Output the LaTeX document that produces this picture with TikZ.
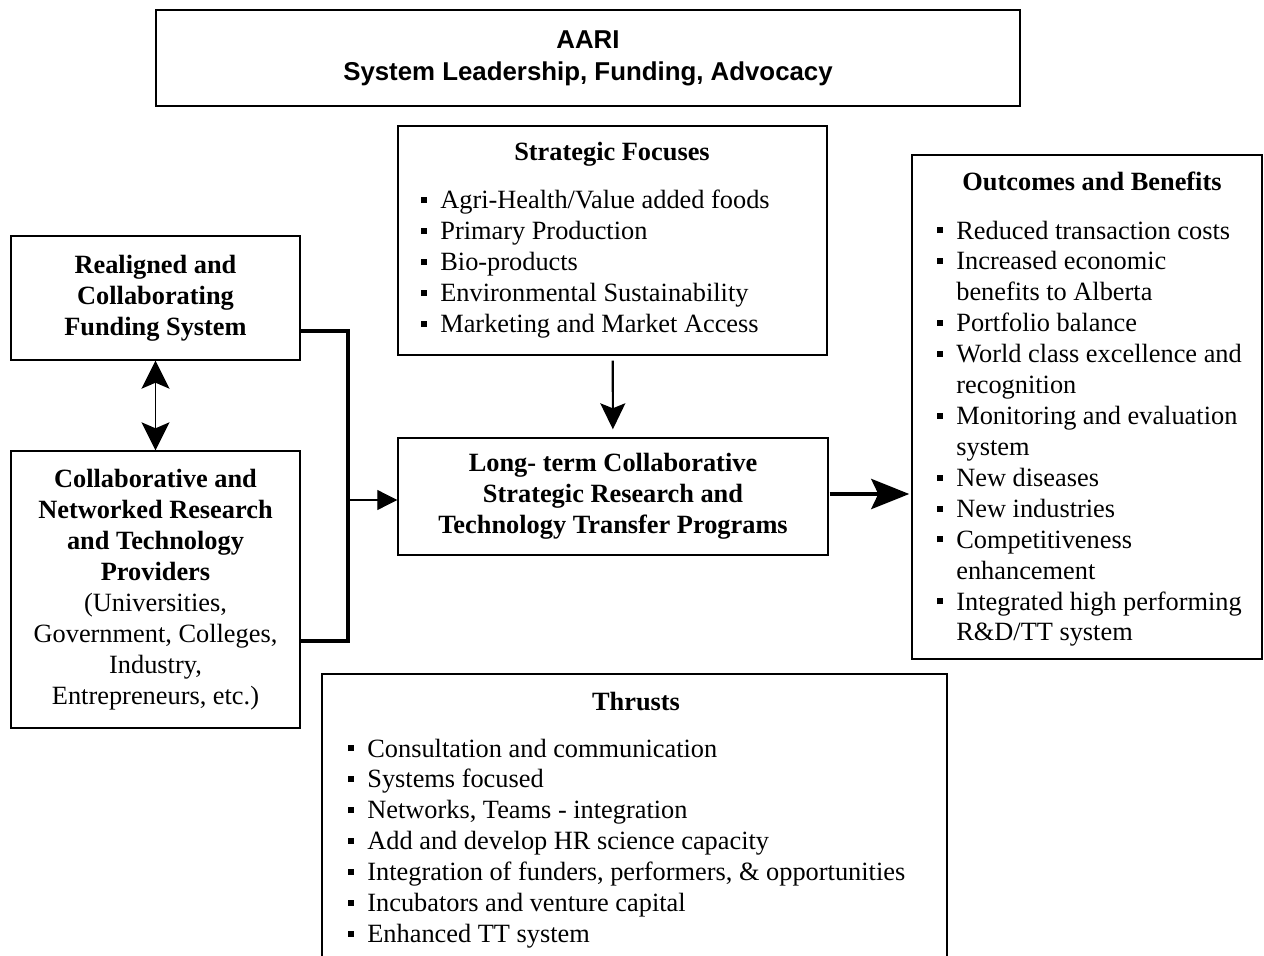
\documentclass[tikz,border=0pt]{standalone}
\usepackage{fontspec}
\setmainfont{Liberation Serif}
\newfontfamily\headfont{Liberation Sans}
\usetikzlibrary{arrows.meta,positioning}

\newlength\pxl
\setlength\pxl{0.02cm}
\newcommand\sq{\rule[0.22em]{6\pxl}{6\pxl}}
\newcommand\bodysize{\fontsize{15}{17.6}\selectfont}

\tikzset{
  box/.style={draw, line width=0.8pt, inner sep=0pt, align=center},
  boxtext/.style={font=\bodysize\bfseries, align=center},
  listtext/.style={font=\bodysize, inner sep=0pt, anchor=base west},
  headtext/.style={font=\bodysize\bfseries, inner sep=0pt, anchor=base},
  link/.style={-{Triangle[length=0.4cm,width=0.4cm]}, line width=0.6pt},
  bothway/.style={{Stealth[length=0.56cm,width=0.56cm,inset=0.12cm]}-{Stealth[length=0.56cm,width=0.56cm,inset=0.12cm]}, line width=0.8pt},
  feed/.style={-{Stealth[length=0.52cm,width=0.5cm,inset=0.1cm]}, line width=1.2pt},
  bigarrow/.style={-{Stealth[length=0.76cm,width=0.6cm,inset=0.14cm]}, line width=2.6pt},
  bracket/.style={line width=2.5pt}
}

\begin{document}
\begin{tikzpicture}[x=0.02cm, y=-0.02cm]
  \clip (0,0) rectangle (1264,956);

  % top box
  \node[box, minimum width=864\pxl, minimum height=96\pxl,
        font=\headfont\bfseries\fontsize{14.7}{18.1}\selectfont] (aari) at (588,58)
        {AARI\\System Leadership, Funding, Advocacy};

  % left column
  \node[box, minimum width=289\pxl, minimum height=124\pxl, boxtext] (realign) at (155.5,298)
        {Realigned and\\Collaborating\\Funding System};
  \node[box, minimum width=289\pxl, minimum height=277\pxl, font=\bodysize] (collab) at (155.5,589.5)
        {\textbf{Collaborative and}\\\textbf{Networked Research}\\\textbf{and Technology}\\\textbf{Providers}\\
         (Universities,\\Government, Colleges,\\Industry,\\Entrepreneurs, etc.)};

  % middle column
  \node[box, minimum width=429\pxl, minimum height=229\pxl] (focus) at (612.5,240.5) {};
  \node[headtext] (focus-head) at (612,161) {Strategic Focuses};
  \node[listtext] (focus-list) at (421,209) {\begin{tabular}[t]{@{}l@{\hspace{13\pxl}}l@{}}
      \sq & Agri-Health/Value added foods\\
      \sq & Primary Production\\
      \sq & Bio-products\\
      \sq & Environmental Sustainability\\
      \sq & Marketing and Market Access
    \end{tabular}};

  \node[box, minimum width=430\pxl, minimum height=117\pxl, boxtext] (longterm) at (613,496.5)
        {Long- term Collaborative\\Strategic Research and\\Technology Transfer Programs};

  \node[box, minimum width=625\pxl, minimum height=300\pxl] (thrust) at (634.5,824) {};
  \node[headtext] (thrust-head) at (636,710) {Thrusts};
  \node[listtext] (thrust-list) at (348,757) {\begin{tabular}[t]{@{}l@{\hspace{13\pxl}}l@{}}
      \sq & Consultation and communication\\
      \sq & Systems focused\\
      \sq & Networks, Teams - integration\\
      \sq & Add and develop HR science capacity\\
      \sq & Integration of funders, performers, \& opportunities\\
      \sq & Incubators and venture capital\\
      \sq & Enhanced TT system
    \end{tabular}};

  % right column
  \node[box, minimum width=350\pxl, minimum height=504\pxl] (outcome) at (1087,407) {};
  \node[headtext] (outcome-head) at (1092,191) {Outcomes and Benefits};
  \node[listtext] (outcome-list) at (937,239) {\begin{tabular}[t]{@{}l@{\hspace{13\pxl}}l@{}}
      \sq & Reduced transaction costs\\
      \sq & Increased economic\\
          & benefits to Alberta\\
      \sq & Portfolio balance\\
      \sq & World class excellence and\\
          & recognition\\
      \sq & Monitoring and evaluation\\
          & system\\
      \sq & New diseases\\
      \sq & New industries\\
      \sq & Competitiveness\\
          & enhancement\\
      \sq & Integrated high performing\\
          & R\&D/TT system
    \end{tabular}};

  % connectors
  \coordinate (join) at (348,500);
  \draw[bracket] (realign.east |- 0,331) -| (join) |- (collab.east |- 0,641);
  \draw[link] (join) -- (join -| longterm.west);
  \draw[bothway] (realign) -- (collab);
  \draw[feed, shorten <=5\pxl, shorten >=8\pxl] (focus) -- (longterm);
  \draw[bigarrow, shorten <=1\pxl, shorten >=2\pxl] (longterm.east |- 0,494) -- (outcome.west |- 0,494);
\end{tikzpicture}
\end{document}
